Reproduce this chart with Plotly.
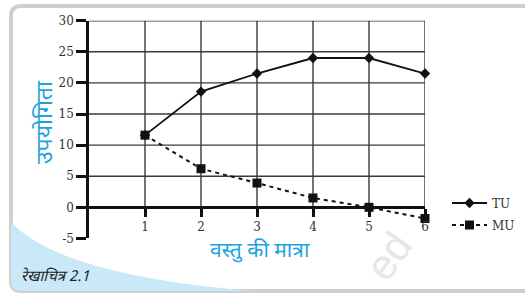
import plotly.graph_objects as go

# ---------------- data ----------------
units = [1, 2, 3, 4, 5, 6]
tu_values = [11.6, 18.6, 21.5, 24.0, 24.0, 21.5]
mu_values = [11.6, 6.2, 3.9, 1.5, 0.0, -1.8]
y_ticks = [-5, 0, 5, 10, 15, 20, 25, 30]
x_ticks = [1, 2, 3, 4, 5, 6]
x_title = "वस्तु की मात्रा"
y_title = "उपयोगिता"
caption = "रेखाचित्र 2.1"

W, H = 525, 294


def X(px):
    return px / W


def Y(py):
    return 1 - py / H


# plot geometry (pixels)
x_left, x_right = 89, 425
y_top, y_bot = 20.7, 238.4
ymin, ymax = -5, 30
xdom = [X(x_left), X(x_right)]
ydom = [Y(y_bot), Y(y_top)]
zero_pos = ydom[0] + (0 - ymin) / (ymax - ymin) * (ydom[1] - ydom[0])

serif = "DejaVu Serif, Liberation Serif, serif"
deva = "Noto Sans Devanagari, Noto Sans, Lohit Devanagari, sans-serif"
cyan = "#1aa3e0"

fig = go.Figure()

fig.add_trace(go.Scatter(
    x=units, y=tu_values, name="TU", mode="lines+markers",
    line=dict(color="#111111", width=1.8),
    marker=dict(symbol="diamond", size=8, color="#111111"),
    cliponaxis=False, legend="legend", showlegend=True,
))
fig.add_trace(go.Scatter(
    x=units, y=mu_values, name="MU", mode="lines+markers",
    line=dict(color="#111111", width=2, dash="4px,4px"),
    marker=dict(symbol="square", size=9, color="#111111"),
    cliponaxis=False, legend="legend2", showlegend=True,
))

shapes = []
# card background pieces (paper)
r = 10
cl, ct, cr, cb = 11, 6, 540, 291
card = (f"M {X(cl)},{Y(ct + r)} Q {X(cl)},{Y(ct)} {X(cl + r)},{Y(ct)} "
        f"L {X(cr)},{Y(ct)} L {X(cr)},{Y(cb)} L {X(cl + r)},{Y(cb)} "
        f"Q {X(cl)},{Y(cb)} {X(cl)},{Y(cb - r)} Z")
swoosh = (f"M {X(cl)},{Y(222)} Q {X(60)},{Y(275)} {X(252)},{Y(cb)} "
          f"L {X(cl + r)},{Y(cb)} Q {X(cl)},{Y(cb)} {X(cl)},{Y(cb - r)} Z")
shapes.append(dict(type="path", path=card, xref="paper", yref="paper",
                   line=dict(color="#cfcfcf", width=4), fillcolor="white", layer="below"))
shapes.append(dict(type="path", path=swoosh, xref="paper", yref="paper",
                   line=dict(width=0), fillcolor="#c9e9f8", layer="below"))

# grid lines
for v in [5, 10, 15, 20, 25, 30]:
    shapes.append(dict(type="line", xref="x", yref="y", x0=0, x1=6, y0=v, y1=v,
                       line=dict(color="#3a3a3a", width=1.4), layer="below"))
for u in x_ticks:
    shapes.append(dict(type="line", xref="x", yref="y", x0=u, x1=u, y0=0, y1=30,
                       line=dict(color="#3a3a3a", width=1.4), layer="below"))

legend_style = dict(xanchor="left", yanchor="middle", bgcolor="rgba(0,0,0,0)",
                    font=dict(family=serif, size=12, color="#333333"), itemwidth=35)

fig.update_layout(
    width=W, height=H,
    margin=dict(l=0, r=0, t=0, b=0, autoexpand=False),
    paper_bgcolor="white",
    plot_bgcolor="rgba(0,0,0,0)",
    showlegend=True,
    shapes=shapes,
    xaxis=dict(
        domain=xdom, range=[0, 6], anchor="free", position=zero_pos, automargin=False,
        tickmode="array", tickvals=x_ticks, ticktext=[str(t) for t in x_ticks],
        ticks="outside", ticklen=8, tickwidth=2.5, tickcolor="#111111",
        showline=True, linecolor="#111111", linewidth=2.5,
        showgrid=False, zeroline=False,
        tickfont=dict(family=serif, size=12, color="#333333"),
    ),
    yaxis=dict(
        domain=ydom, range=[ymin, ymax], anchor="x", automargin=False,
        tickmode="array", tickvals=y_ticks, ticktext=[str(t) for t in y_ticks],
        ticks="outside", ticklen=10, tickwidth=2.5, tickcolor="#111111",
        showline=True, linecolor="#111111", linewidth=2.5,
        showgrid=False, zeroline=False,
        tickfont=dict(family=serif, size=12, color="#333333"),
    ),
    legend=dict(x=X(447), y=Y(203), **legend_style),
    legend2=dict(x=X(447), y=Y(225), **legend_style),
    annotations=[
        dict(text=x_title, x=X(260), y=Y(252), xref="paper", yref="paper",
             xanchor="center", yanchor="middle",
             showarrow=False, font=dict(family=deva, size=21, color=cyan)),
        dict(text=y_title, x=X(46), y=Y(122), xref="paper", yref="paper",
             xanchor="center", yanchor="middle",
             showarrow=False, textangle=-90, font=dict(family=deva, size=23, color=cyan)),
        dict(text=f"<i>{caption}</i>", x=X(19), y=Y(277), xref="paper", yref="paper",
             xanchor="left", yanchor="middle", showarrow=False,
             font=dict(family=deva, size=15, color="#222222")),
        dict(text="ed", x=X(388), y=Y(256), xref="paper", yref="paper",
             xanchor="center", yanchor="middle", showarrow=False, textangle=-55,
             font=dict(family="Liberation Sans, sans-serif", size=42, color="#e6e6e6")),
    ],
)

fig.write_html(
    "out.html",
    config={"displayModeBar": False},
    post_script="document.body.style.margin='0';document.body.style.padding='0';",
)
